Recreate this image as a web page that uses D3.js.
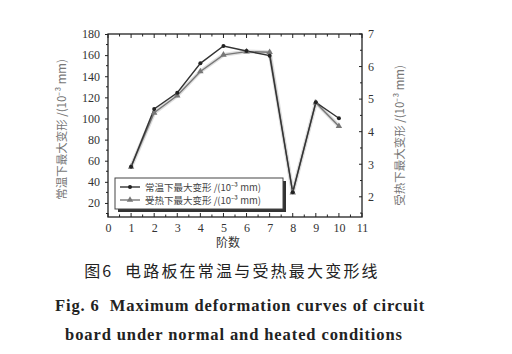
<!DOCTYPE html>
<html><head><meta charset="utf-8">
<script src="https://cdn.jsdelivr.net/npm/d3@7"></script>
<style>body{margin:0;background:#fff}svg{display:block}text{white-space:pre}</style>
</head><body>
<svg id="c" width="512" height="354"></svg>
<script>
const steps = [1,2,3,4,5,6,7,8,9,10];
const normalVals = [54.3,109,124.4,152.2,168.6,163.9,159.5,30.1,115.3,100.2];
const heatedVals = [2.92,4.58,5.11,5.85,6.36,6.46,6.44,2.13,4.89,4.17];
const leftTicks = [20,40,60,80,100,120,140,160,180];
const rightTicks = [2,3,4,5,6,7];
const xTicks = [0,1,2,3,4,5,6,7,8,9,10,11];
const leftTitle = "常温下最大变形 /(10⁻³ mm)";
const rightTitle = "受热下最大变形 /(10⁻³ mm)";
const legendNames = ["常温下最大变形 /(10⁻³ mm)", "受热下最大变形 /(10⁻³ mm)"];
const xTitle = "阶数";
const caption = ["图6  电路板在常温与受热最大变形线",
  "Fig. 6  Maximum deformation curves of circuit",
  "board under normal and heated conditions"];

const svg = d3.select("#c");
const L=108, R=362, T=34, B=217;
const x = d3.scaleLinear().domain([0,11]).range([L,R]);
const yL = d3.scaleLinear().domain([6.7,180]).range([B,T]);
const yR = d3.scaleLinear().domain([1.38,7]).range([B,T]);
const serif = "'Liberation Serif','DejaVu Serif',serif";
const cjk = "'Noto Sans CJK SC',sans-serif";
const axCol = "#222";

// frame
svg.append("rect").attr("x",L).attr("y",T).attr("width",R-L).attr("height",B-T)
  .attr("fill","none").attr("stroke",axCol).attr("stroke-width",1.3);

// bottom axis
const gx = svg.append("g").attr("transform",`translate(0,${B})`)
  .call(d3.axisBottom(x).tickValues(xTicks).tickSize(0).tickPadding(6).tickFormat(d3.format("d")));
gx.select(".domain").remove();
gx.selectAll("text").attr("font-family",serif).attr("font-size",12).attr("fill","#333");
const halfTicks = d3.range(0,11.01,0.5);
svg.append("g").selectAll("line").data(halfTicks).join("line")
  .attr("x1",d=>x(d)).attr("x2",d=>x(d)).attr("y1",B).attr("y2",d=>B-(d%1===0?4:2.5))
  .attr("stroke",axCol);
svg.append("g").selectAll("line").data(halfTicks).join("line")
  .attr("x1",d=>x(d)).attr("x2",d=>x(d)).attr("y1",T).attr("y2",d=>T+(d%1===0?4:2.5))
  .attr("stroke",axCol);

// left axis
const gl = svg.append("g").attr("transform",`translate(${L},0)`)
  .call(d3.axisLeft(yL).tickValues(leftTicks).tickSize(3).tickPadding(5));
gl.select(".domain").remove();
gl.selectAll("line").attr("stroke",axCol);
gl.selectAll("text").attr("font-family",serif).attr("font-size",12).attr("fill","#333");
svg.append("g").selectAll("line").data(d3.range(10,180,20)).join("line")
  .attr("x1",L).attr("x2",L-2).attr("y1",d=>yL(d)).attr("y2",d=>yL(d)).attr("stroke",axCol);

// right axis
const gr = svg.append("g").attr("transform",`translate(${R},0)`)
  .call(d3.axisRight(yR).tickValues(rightTicks).tickSize(0).tickPadding(6).tickFormat(d3.format("d")));
gr.select(".domain").remove();
gr.selectAll("text").attr("font-family",serif).attr("font-size",12).attr("fill","#333");
svg.append("g").selectAll("line").data(d3.range(1.5,7.01,0.5)).join("line")
  .attr("x1",R).attr("x2",d=>R-(d%1===0?3:2)).attr("y1",d=>yR(d)).attr("y2",d=>yR(d)).attr("stroke",axCol);

// titles
svg.append("text").attr("transform",`translate(66,${(T+B)/2+4}) rotate(-90)`)
  .attr("text-anchor","middle").attr("font-family",cjk).attr("font-size",11.5).attr("fill","#777")
  .text(leftTitle);
svg.append("text").attr("transform",`translate(404,${(T+B)/2+10}) rotate(-90)`)
  .attr("text-anchor","middle").attr("font-family",cjk).attr("font-size",11.5).attr("fill","#777")
  .text(rightTitle);
svg.append("text").attr("x",x(5.2)).attr("y",247).attr("text-anchor","middle")
  .attr("font-family",cjk).attr("font-size",12).attr("fill","#333").text(xTitle);

// series
const lineN = d3.line().x((d,i)=>x(steps[i])).y(d=>yL(d));
const lineH = d3.line().x((d,i)=>x(steps[i])).y(d=>yR(d));
svg.append("path").datum(heatedVals).attr("d",lineH).attr("fill","none")
  .attr("stroke","#c8c8c8").attr("stroke-width",4).attr("opacity",0.6);
svg.append("path").datum(heatedVals).attr("d",lineH).attr("fill","none")
  .attr("stroke","#777").attr("stroke-width",1.4);
svg.append("path").datum(normalVals).attr("d",lineN).attr("fill","none")
  .attr("stroke","#333").attr("stroke-width",1.4);
const tri = d3.symbol().type(d3.symbolTriangle).size(18);
svg.append("g").selectAll("path").data(heatedVals).join("path")
  .attr("transform",(d,i)=>`translate(${x(steps[i])},${yR(d)})`).attr("d",tri).attr("fill","#777");
svg.append("g").selectAll("circle").data(normalVals).join("circle")
  .attr("cx",(d,i)=>x(steps[i])).attr("cy",d=>yL(d)).attr("r",2).attr("fill","#222");

// legend
const lg = svg.append("g");
lg.append("rect").attr("x",118).attr("y",181).attr("width",168).attr("height",31).attr("fill","#333");
lg.append("rect").attr("x",115).attr("y",178).attr("width",168).attr("height",31)
  .attr("fill","#fff").attr("stroke","#444").attr("stroke-width",1);
[0,1].forEach(i=>{
  const yy = 187 + i*13;
  lg.append("line").attr("x1",120).attr("x2",140).attr("y1",yy).attr("y2",yy)
    .attr("stroke", i?"#777":"#333").attr("stroke-width",1.4);
  if(i) lg.append("path").attr("transform",`translate(130,${yy})`).attr("d",tri).attr("fill","#777");
  else lg.append("circle").attr("cx",130).attr("cy",yy).attr("r",2).attr("fill","#222");
  lg.append("text").attr("x",145).attr("y",yy+3.5).attr("font-family",cjk).attr("font-size",9.5)
    .attr("fill","#444").text(legendNames[i]);
});

// caption
svg.append("text").attr("x",232).attr("y",277).attr("text-anchor","middle")
  .attr("font-family",cjk).attr("font-size",16).attr("letter-spacing",2.2).attr("fill","#222").text(caption[0]);
svg.append("text").attr("x",240).attr("y",311).attr("text-anchor","middle")
  .attr("font-family",serif).attr("font-weight","bold").attr("font-size",16.5).attr("letter-spacing",0.9)
  .attr("fill","#222").text(caption[1]);
svg.append("text").attr("x",234).attr("y",340).attr("text-anchor","middle")
  .attr("font-family",serif).attr("font-weight","bold").attr("font-size",16.5).attr("letter-spacing",0.9)
  .attr("fill","#222").text(caption[2]);
</script>
</body></html>
